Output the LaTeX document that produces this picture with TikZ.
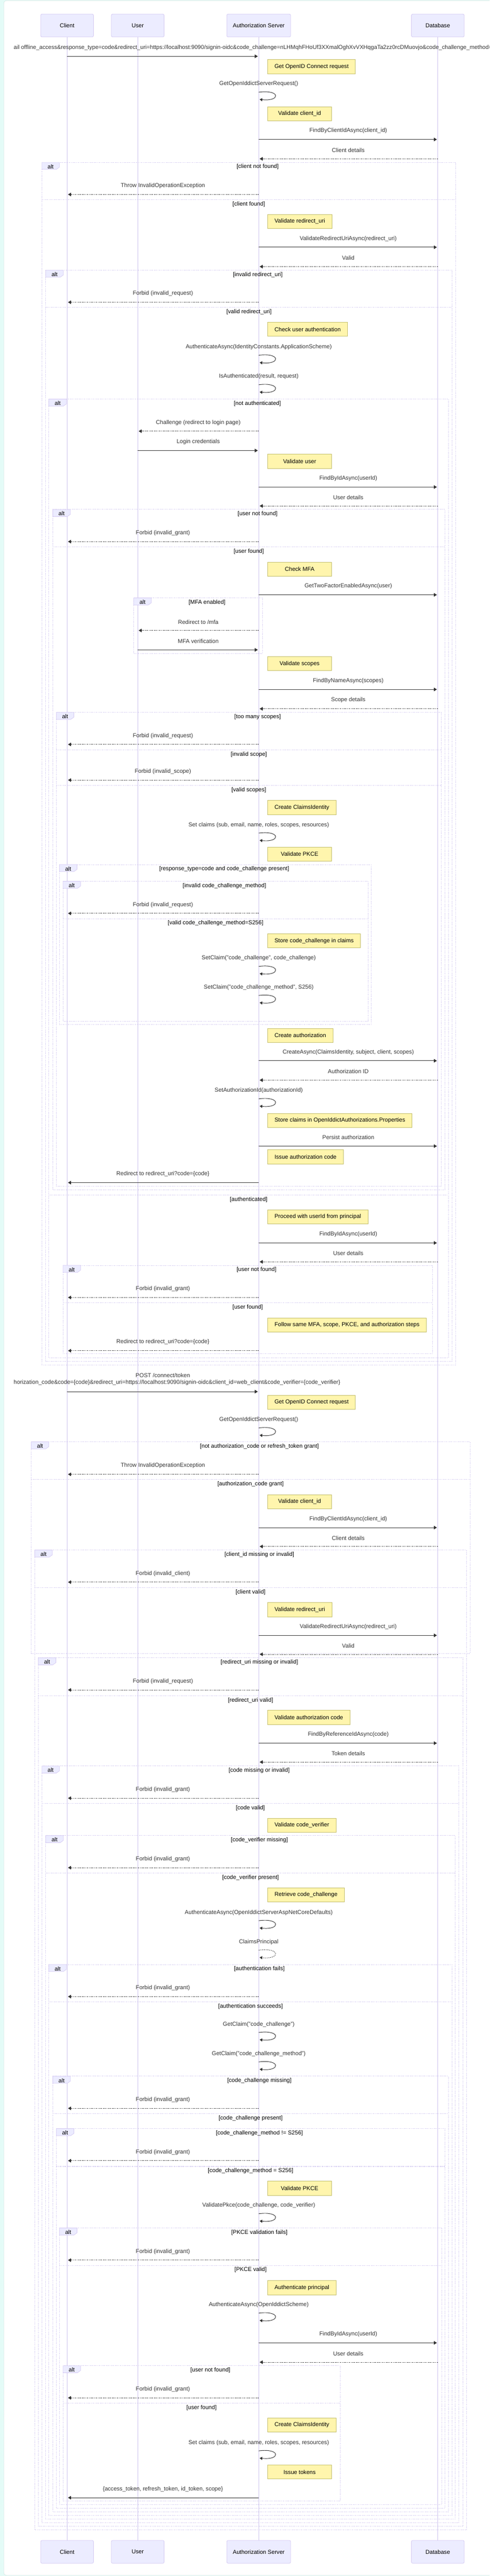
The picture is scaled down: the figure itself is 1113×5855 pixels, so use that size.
\documentclass[tikz,border=0pt]{standalone}
\usepackage{fontspec}
\setmainfont{Liberation Sans}
\usetikzlibrary{arrows.meta}
\definecolor{actfill}{HTML}{ECECFF}
\definecolor{actline}{HTML}{D3C8F2}
\definecolor{lifecol}{HTML}{CDC3EE}
\definecolor{loopcol}{HTML}{D2C9F0}
\definecolor{notefill}{HTML}{FFF5AD}
\definecolor{noteline}{HTML}{C4BE6C}
\definecolor{msgcol}{HTML}{333333}
\definecolor{mint}{HTML}{E4FBF7}
\definecolor{framecol}{HTML}{C2D8D4}
\newcounter{ec}
\def\xC{152.5}
\def\xU{313}
\def\xA{588}
\def\xD{995}
\tikzset{
  base/.style={font=\fontsize{13}{15.6}\selectfont},
  actor/.style={base, draw=actline, fill=actfill, rounded corners=3pt, minimum width=120pt, minimum height=52pt, inner sep=0pt, line width=0.9pt},
  life/.style={draw=lifecol, line width=0.9pt},
  msglabel/.style={base, text=msgcol, inner sep=0pt},
  solidmsg/.style={draw=msgcol, line width=1.1pt, shorten >=2pt, -{Triangle[length=7pt,width=8pt]}},
  dotmsg/.style={solidmsg, dash pattern=on 2pt off 2pt},
  solidloop/.style={draw=msgcol, line width=1.1pt, -{Triangle[length=6pt,width=7pt]}},
  dotloop/.style={solidloop, dash pattern=on 2pt off 2pt},
  notebox/.style={base, draw=noteline, fill=notefill, minimum width=145pt, minimum height=32pt, inner xsep=15.5pt, inner ysep=0pt, anchor=north west, line width=0.9pt},
  altline/.style={draw=loopcol, line width=1.2pt, dash pattern=on 2pt off 2pt},
  tabshape/.style={draw=actline, fill=actfill, line width=0.8pt},
  condlabel/.style={base, text=black, inner sep=0pt}
}
\newcommand\Msg[5][solidmsg]{%
  \stepcounter{ec}%
  \coordinate (s\theec) at (#2,#4);%
  \coordinate (e\theec) at (#3,#4);%
  \node[msglabel] (l\theec) at ({(#2+#3)/2},{#4-19.5}) {#5};%
  \draw[#1] (s\theec) -- (e\theec);%
}
\newcommand\Self[3][solidloop]{%
  \stepcounter{ec}%
  \node[msglabel] (l\theec) at (\xA,#2) {#3};%
  \coordinate (s\theec) at (\xA,{#2+18.5});%
  \coordinate (e\theec) at ({\xA+2},{#2+35});%
  \draw[#1] (s\theec) .. controls ({\xA+50},{#2+12}) and ({\xA+50},{#2+40}) .. (e\theec);%
}
\newcommand\Note[2]{%
  \stepcounter{ec}%
  \node[notebox] (n\theec) at (608,#1) {#2};%
}
\newcommand\Alt[5]{%
  \stepcounter{ec}%
  \draw[altline] (#1,#3) rectangle (#2,#4);%
  \draw[tabshape] (#1,#3) -- ++(40,0) -- ++(0,11) -- ++(-7,5) -- ++(-33,0) -- cycle;%
  \node[condlabel] (t\theec) at ({#1+20},{#3+9.5}) {alt};%
  \node[condlabel] (c\theec) at ({(#1+40+#2)/2},{#3+10.5}) {#5};%
}
\newcommand\Else[4]{%
  \stepcounter{ec}%
  \draw[altline] (#1,#3) -- (#2,#3);%
  \node[condlabel] (c\theec) at ({(#1+#2)/2},{#3+10.5}) {#4};%
}
\begin{document}
\begin{tikzpicture}[x=1pt,y=-1pt]
\useasboundingbox (0,0) rectangle (1113,5855);
\clip (0,0) rectangle (1113,5855);
\fill[mint] (0,0) rectangle (1113,5855);
\draw[framecol, fill=white, rounded corners=6pt] (8.5,1.3) rectangle (1140,5853.5);
% actors
\node[actor] (cT) at (\xC,58) {Client};
\node[actor] (uT) at (\xU,58) {User};
\node[actor, minimum width=145pt] (aT) at (\xA,58) {Authorization Server};
\node[actor] (dT) at (\xD,58) {Database};
\node[actor] (cB) at (\xC,5800) {Client};
\node[actor] (uB) at (\xU,5800) {User};
\node[actor, minimum width=145pt] (aB) at (\xA,5800) {Authorization Server};
\node[actor] (dB) at (\xD,5800) {Database};
\draw[life] (cT.south) -- (cB.north);
\draw[life] (uT.south) -- (uB.north);
\draw[life] (aT.south) -- (aB.north);
\draw[life] (dT.south) -- (dB.north);
% first request
\coordinate (r1s) at (\xC,128);
\coordinate (r1e) at (\xA,128);
\node[msglabel, anchor=west] (r1l) at (31,108.3) {ail offline\_access\&response\_type=code\&redirect\_uri=https://localhost:9090/signin-oidc\&code\_challenge=nLHMqhFHoUf3XXmalOghXvVXHqgaTa2zz0rcDMuovjo\&code\_challenge\_method=S256};
\draw[solidmsg] (r1s) -- (r1e);
\Note{135}{Get OpenID Connect request}
\Self{191}{GetOpenIddictServerRequest()}
\Note{242}{Validate client\_id}
\Msg{\xA}{\xD}{317}{FindByClientIdAsync(client\_id)}
\Msg[dotmsg]{\xD}{\xA}{361}{Client details}
\Alt{95}{1036}{369}{3102}{[client not found]}
\Msg[dotmsg]{\xA}{\xC}{442}{Throw InvalidOperationException}
\Else{95}{1036}{454}{[client found]}
\Note{487}{Validate redirect\_uri}
\Msg{\xA}{\xD}{562}{ValidateRedirectUriAsync(redirect\_uri)}
\Msg[dotmsg]{\xD}{\xA}{606}{Valid}
\Alt{104}{1028}{614}{3094}{[invalid redirect\_uri]}
\Msg[dotmsg]{\xA}{\xC}{687}{Forbid (invalid\_request)}
\Else{104}{1028}{699}{[valid redirect\_uri]}
\Note{732}{Check user authentication}
\Self{789}{AuthenticateAsync(IdentityConstants.ApplicationScheme)}
\Self{856}{IsAuthenticated(result, request)}
\Alt{111}{1019}{907}{3086}{[not authenticated]}
\Msg[dotmsg]{\xA}{\xU}{980}{Challenge (redirect to login page)}
\Msg{\xU}{\xA}{1024}{Login credentials}
\Note{1032}{Validate user}
\Msg{\xA}{\xD}{1107}{FindByIdAsync(userId)}
\Msg[dotmsg]{\xD}{\xA}{1150}{User details}
\Alt{120}{1011}{1158}{2704}{[user not found]}
\Msg[dotmsg]{\xA}{\xC}{1231}{Forbid (invalid\_grant)}
\Else{120}{1011}{1243}{[user found]}
\Note{1277}{Check MFA}
\Msg{\xA}{\xD}{1352}{GetTwoFactorEnabledAsync(user)}
\Alt{304}{597}{1359}{1485}{[MFA enabled]}
\Msg[dotmsg]{\xA}{\xU}{1433}{Redirect to /mfa}
\Msg{\xU}{\xA}{1477}{MFA verification}
\Note{1492}{Validate scopes}
\Msg{\xA}{\xD}{1567}{FindByNameAsync(scopes)}
\Msg[dotmsg]{\xD}{\xA}{1611}{Scope details}
\Alt{128}{1003}{1619}{2696}{[too many scopes]}
\Msg[dotmsg]{\xA}{\xC}{1692}{Forbid (invalid\_request)}
\Else{128}{1003}{1704}{[invalid scope]}
\Msg[dotmsg]{\xA}{\xC}{1773}{Forbid (invalid\_scope)}
\Else{128}{1003}{1785}{[valid scopes]}
\Note{1819}{Create ClaimsIdentity}
\Self{1875}{Set claims (sub, email, name, roles, scopes, resources)}
\Note{1925}{Validate PKCE}
\Alt{135}{844}{1965}{2329}{[response\_type=code and code\_challenge present]}
\Alt{143}{837}{2003}{2321}{[invalid code\_challenge\_method]}
\Msg[dotmsg]{\xA}{\xC}{2076}{Forbid (invalid\_request)}
\Else{143}{837}{2088}{[valid code\_challenge\_method=S256]}
\Note{2122}{Store code\_challenge in claims}
\Self{2178}{SetClaim("code\_challenge", code\_challenge)}
\Self{2244}{SetClaim("code\_challenge\_method", S256)}
\Note{2337}{Create authorization}
\Msg{\xA}{\xD}{2411}{CreateAsync(ClaimsIdentity, subject, client, scopes)}
\Msg[dotmsg]{\xD}{\xA}{2455}{Authorization ID}
\Self{2479}{SetAuthorizationId(authorizationId)}
\Note{2530}{Store claims in OpenIddictAuthorizations.Properties}
\Msg{\xA}{\xD}{2605}{Persist authorization}
\Note{2613}{Issue authorization code}
\Msg{\xA}{\xC}{2688}{Redirect to redirect\_uri?code=\{code\}}
\Else{111}{1019}{2716}{[authenticated]}
\Note{2749}{Proceed with userId from principal}
\Msg{\xA}{\xD}{2825}{FindByIdAsync(userId)}
\Msg[dotmsg]{\xD}{\xA}{2868}{User details}
\Alt{143}{983}{2876}{3077}{[user not found]}
\Msg[dotmsg]{\xA}{\xC}{2949}{Forbid (invalid\_grant)}
\Else{143}{983}{2961}{[user found]}
\Note{2995}{Follow same MFA, scope, PKCE, and authorization steps}
\Msg[dotmsg]{\xA}{\xC}{3070}{Redirect to redirect\_uri?code=\{code\}}
% token request
\coordinate (r2s) at (\xC,3163);
\coordinate (r2e) at (\xA,3163);
\node[msglabel] (r2l) at (370,3126) {POST /connect/token};
\node[msglabel, anchor=west] (r2m) at (31,3142) {horization\_code\&code=\{code\}\&redirect\_uri=https://localhost:9090/signin-oidc\&client\_id=web\_client\&code\_verifier=\{code\_verifier\}};
\draw[solidmsg] (r2s) -- (r2e);
\Note{3171}{Get OpenID Connect request}
\Self{3227}{GetOpenIddictServerRequest()}
\Alt{71}{1068}{3277}{3758}{[not authorization\_code or refresh\_token grant]}
\Msg[dotmsg]{\xA}{\xC}{3351}{Throw InvalidOperationException}
\Else{71}{1068}{3363}{[authorization\_code grant]}
\Note{3397}{Validate client\_id}
\Msg{\xA}{\xD}{3472}{FindByClientIdAsync(client\_id)}
\Msg[dotmsg]{\xD}{\xA}{3515}{Client details}
\Alt{79}{1060}{3523}{5750}{[client\_id missing or invalid]}
\Msg[dotmsg]{\xA}{\xC}{3596}{Forbid (invalid\_client)}
\Else{79}{1060}{3608}{[client valid]}
\Note{3642}{Validate redirect\_uri}
\Msg{\xA}{\xD}{3717}{ValidateRedirectUriAsync(redirect\_uri)}
\Msg[dotmsg]{\xD}{\xA}{3760}{Valid}
\Alt{87}{1052}{3768}{5742}{[redirect\_uri missing or invalid]}
\Msg[dotmsg]{\xA}{\xC}{3841}{Forbid (invalid\_request)}
\Else{87}{1052}{3854}{[redirect\_uri valid]}
\Note{3887}{Validate authorization code}
\Msg{\xA}{\xD}{3962}{FindByReferenceIdAsync(code)}
\Msg[dotmsg]{\xD}{\xA}{4005}{Token details}
\Alt{95}{1043}{4014}{5734}{[code missing or invalid]}
\Msg[dotmsg]{\xA}{\xC}{4087}{Forbid (invalid\_grant)}
\Else{95}{1043}{4099}{[code valid]}
\Note{4132}{Validate code\_verifier}
\Alt{104}{1035}{4172}{5726}{[code\_verifier missing]}
\Msg[dotmsg]{\xA}{\xC}{4245}{Forbid (invalid\_grant)}
\Else{104}{1035}{4257}{[code\_verifier present]}
\Note{4290}{Retrieve code\_challenge}
\Self{4347}{AuthenticateAsync(OpenIddictServerAspNetCoreDefaults)}
\Self[dotloop]{4414}{ClaimsPrincipal}
\Alt{111}{1028}{4465}{5717}{[authentication fails]}
\Msg[dotmsg]{\xA}{\xC}{4538}{Forbid (invalid\_grant)}
\Else{111}{1028}{4550}{[authentication succeeds]}
\Self{4601}{GetClaim("code\_challenge")}
\Self{4668}{GetClaim("code\_challenge\_method")}
\Alt{120}{1019}{4719}{5709}{[code\_challenge missing]}
\Msg[dotmsg]{\xA}{\xC}{4792}{Forbid (invalid\_grant)}
\Else{120}{1019}{4804}{[code\_challenge present]}
\Alt{128}{1011}{4838}{5701}{[code\_challenge\_method != S256]}
\Msg[dotmsg]{\xA}{\xC}{4911}{Forbid (invalid\_grant)}
\Else{128}{1011}{4924}{[code\_challenge\_method = S256]}
\Note{4957}{Validate PKCE}
\Self{5013}{ValidatePkce(code\_challenge, code\_verifier)}
\Alt{135}{1004}{5064}{5693}{[PKCE validation fails]}
\Msg[dotmsg]{\xA}{\xC}{5137}{Forbid (invalid\_grant)}
\Else{135}{1004}{5149}{[PKCE valid]}
\Note{5183}{Authenticate principal}
\Self{5239}{AuthenticateAsync(OpenIddictScheme)}
\Msg{\xA}{\xD}{5325}{FindByIdAsync(userId)}
\Msg[dotmsg]{\xD}{\xA}{5369}{User details}
\Alt{143}{773}{5377}{5685}{[user not found]}
\Msg[dotmsg]{\xA}{\xC}{5450}{Forbid (invalid\_grant)}
\Else{143}{773}{5462}{[user found]}
\Note{5495}{Create ClaimsIdentity}
\Self{5552}{Set claims (sub, email, name, roles, scopes, resources)}
\Note{5602}{Issue tokens}
\Msg{\xA}{\xC}{5677}{\{access\_token, refresh\_token, id\_token, scope\}}
\end{tikzpicture}
\end{document}
